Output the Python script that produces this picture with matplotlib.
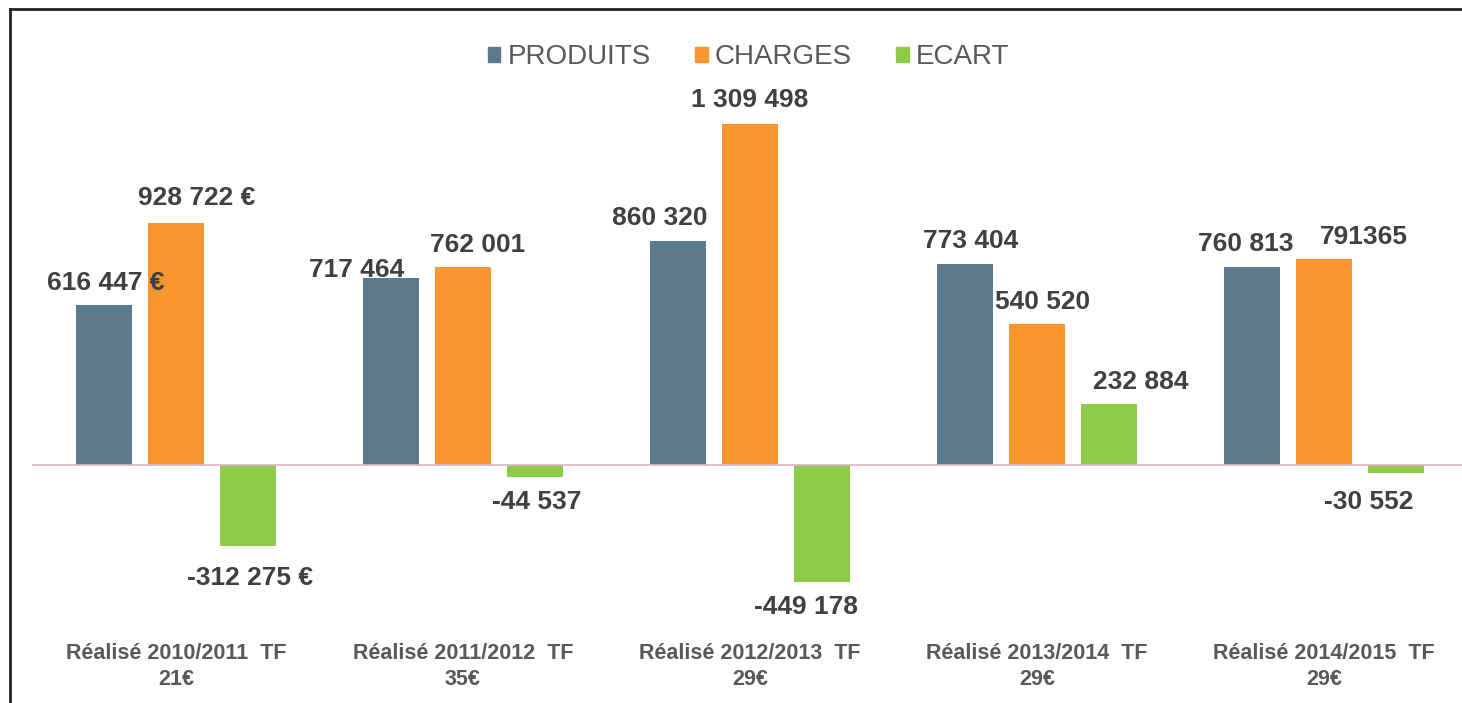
import numpy as np
import matplotlib.pyplot as plt
from matplotlib.patches import Patch
from matplotlib.lines import Line2D

categories = ["Réalisé 2010/2011  TF\n21€", "Réalisé 2011/2012  TF\n35€",
              "Réalisé 2012/2013  TF\n29€", "Réalisé 2013/2014  TF\n29€",
              "Réalisé 2014/2015  TF\n29€"]
produits = [616447, 717464, 860320, 773404, 760813]
charges = [928722, 762001, 1309498, 540520, 791365]
ecart = [-312275, -44537, -449178, 232884, -30552]

produits_lbl = ["616 447 €", "717 464", "860 320", "773 404", "760 813"]
charges_lbl = ["928 722 €", "762 001", "1 309 498", "540 520", "791365"]
ecart_lbl = ["-312 275 €", "-44 537", "-449 178", "232 884", "-30 552"]

# label nudges in pixels (the labels were moved by hand in the original)
produits_off = [(2, 22), (-34, 8), (-18, 23), (6, 23), (-6, 23)]
charges_off = [(21, 25), (15, 22), (0, 24), (6, 22), (40, 22)]
ecart_off = [(2, -32), (2, -25), (-16, -25), (32, 22), (-27, -29)]

c_prod = "#5b7a8b"
c_char = "#f7952f"
c_ecart = "#8dcb48"

plt.rcParams['font.family'] = ['Liberation Sans', 'DejaVu Sans']

fig = plt.figure(figsize=(14.62, 7.03), dpi=100)
ax = fig.add_axes([0.0222, 0.1465, 0.9815, 0.7112])

x = np.arange(len(categories))
w = 0.195
pitch = 0.251
series = [(produits, produits_lbl, produits_off, c_prod, -pitch),
          (charges, charges_lbl, charges_off, c_char, 0),
          (ecart, ecart_lbl, ecart_off, c_ecart, pitch)]

for vals, lbls, offs, col, shift in series:
    ax.bar(x + shift, vals, width=w, color=col)
    for xi, v, t, (dx, dy) in zip(x, vals, lbls, offs):
        ax.annotate(t, xy=(xi + shift, v), xytext=(dx, dy),
                    textcoords='offset pixels', ha='center', va='center',
                    fontsize=19, fontweight='bold', color='#404040')

ax.axhline(0, color='#e0b4c2', lw=1.2)
ax.set_xlim(-0.5, 4.5)
ax.set_ylim(-518400, 1401700)
ax.set_xticks(x)
ax.set_xticklabels(categories, fontsize=15.5, fontweight='bold', color='#595959',
                   linespacing=1.3)
ax.tick_params(axis='x', length=0, pad=31)
ax.set_yticks([])
for s in ax.spines.values():
    s.set_visible(False)

handles = [Patch(color=c_prod, label='PRODUITS'),
           Patch(color=c_char, label='CHARGES'),
           Patch(color=c_ecart, label='ECART')]
fig.legend(handles=handles, loc='center', bbox_to_anchor=(0.512, 0.919), ncol=3,
           frameon=False, fontsize=20, handlelength=0.45, handleheight=0.45,
           handletextpad=0.25, columnspacing=1.6, labelcolor='#595959')

# frame of the screenshot (top and left edges)
fig.add_artist(Line2D([10 / 1462, 1], [1 - 9 / 703, 1 - 9 / 703], color='#222222', lw=2))
fig.add_artist(Line2D([10 / 1462, 10 / 1462], [0, 1 - 9 / 703], color='#222222', lw=2))

fig.savefig('out.png', dpi=100)
